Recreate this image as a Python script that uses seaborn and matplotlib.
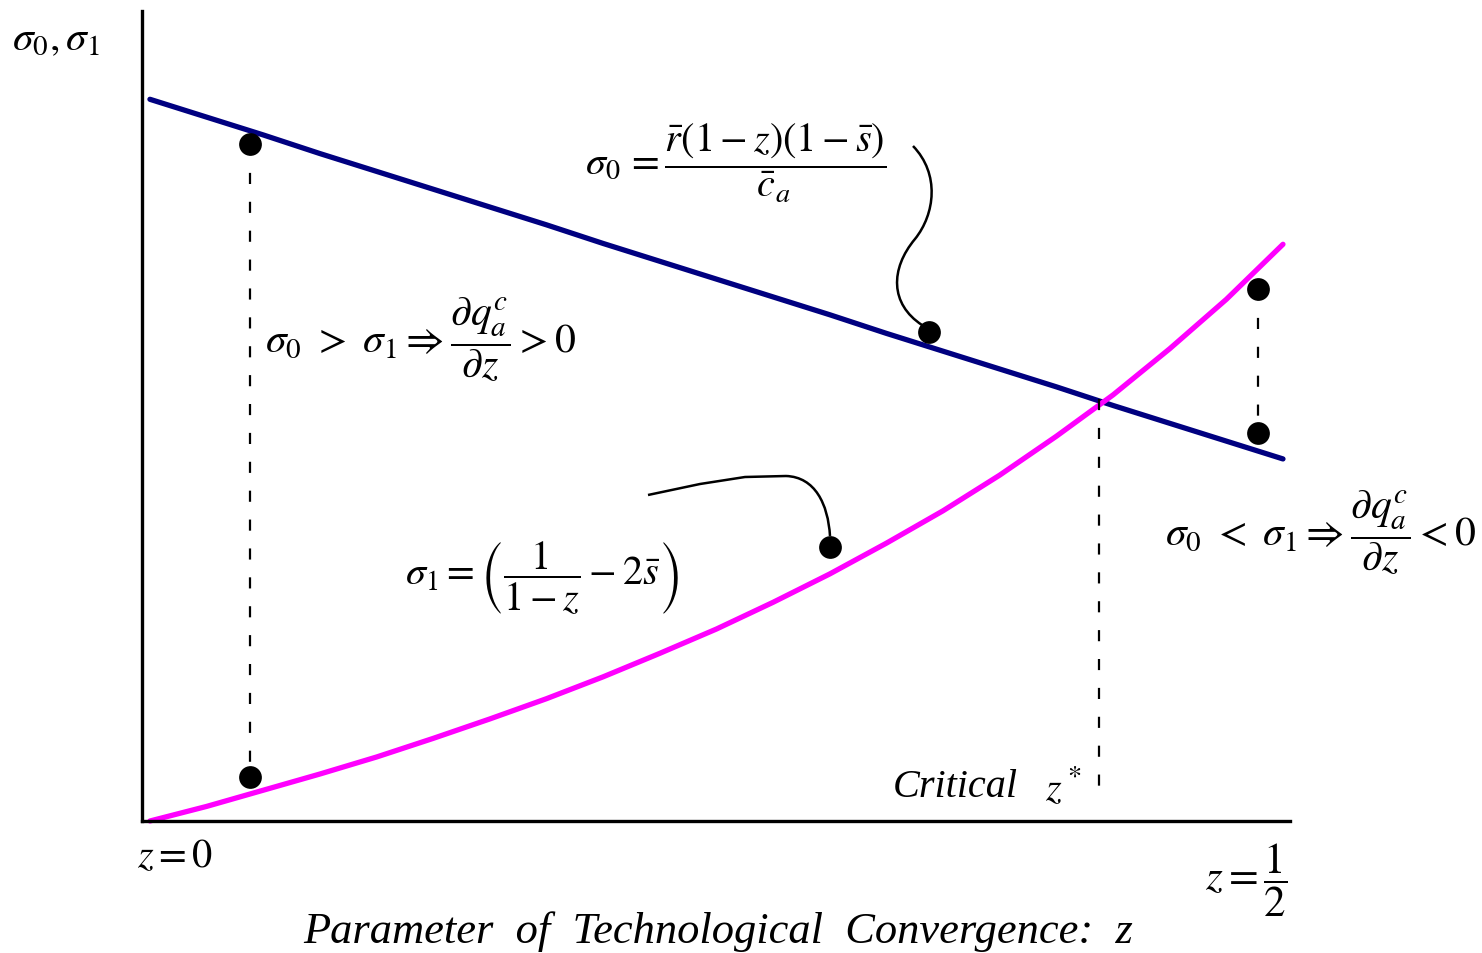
import numpy as np
import pandas as pd
import seaborn as sns
import matplotlib.pyplot as plt
from matplotlib.path import Path
from matplotlib.patches import PathPatch

# values (sigma in arbitrary units, 0 = x-axis)
z_grid = [0.0, 0.025, 0.05, 0.075, 0.1, 0.125, 0.15, 0.175, 0.2, 0.225, 0.25,
          0.275, 0.3, 0.325, 0.35, 0.375, 0.4, 0.425, 0.45, 0.475, 0.5]
sigma0 = [0.891, 0.869, 0.847, 0.824, 0.802, 0.780, 0.758, 0.736, 0.713, 0.691, 0.669,
          0.647, 0.625, 0.602, 0.580, 0.558, 0.536, 0.513, 0.491, 0.469, 0.447]
sigma1 = [0.0, 0.018, 0.038, 0.058, 0.079, 0.102, 0.126, 0.151, 0.178, 0.207, 0.237,
          0.270, 0.305, 0.343, 0.383, 0.427, 0.475, 0.526, 0.583, 0.644, 0.712]

dot_z = [0.044, 0.044, 0.344, 0.300, 0.489, 0.489]
dot_s = [0.836, 0.054, 0.604, 0.338, 0.657, 0.479]

z_star, s_star = 0.419, 0.521

W, H = 1482, 954

sns.set_style("white")
plt.rcParams["mathtext.fontset"] = "stix"
plt.rcParams["font.family"] = ["Liberation Serif", "DejaVu Serif"]
plt.rcParams["text.color"] = "black"

fig = plt.figure(figsize=(W / 100, H / 100), dpi=100)
ax = fig.add_axes([142 / W, 1 - 822 / H, (1290 - 142) / W, (822 - 12) / H])


def fx(px, py):
    return px / W, 1 - py / H


df = pd.DataFrame({"z": z_grid, "sigma0": sigma0, "sigma1": sigma1})
sns.lineplot(data=df, x="z", y="sigma0", color="#000080", lw=3.8, ax=ax, clip_on=False)
sns.lineplot(data=df, x="z", y="sigma1", color="#FF00FF", lw=3.8, ax=ax, clip_on=False)

# dashed guides
dash = dict(color="black", lw=1.6, ls=(0, (5, 8)))
ax.plot([dot_z[0], dot_z[1]], [dot_s[0], dot_s[1]], **dash)
ax.plot([dot_z[4], dot_z[5]], [dot_s[4], dot_s[5]], **dash)
ax.plot([z_star, z_star], [s_star, 0.03], **dash)

sns.scatterplot(x=dot_z, y=dot_s, color="black", s=230, ax=ax, zorder=5,
                edgecolor="black", clip_on=False)

ax.set_xlim(-0.0035, 0.5031)
ax.set_ylim(0, 1)
ax.set_xticks([])
ax.set_yticks([])
ax.set_xlabel("")
ax.set_ylabel("")
sns.despine(ax=ax)
for s in ["left", "bottom"]:
    ax.spines[s].set_linewidth(2.4)
    ax.spines[s].set_color("black")

# leader curves
def leader(pts, codes):
    verts = [fx(*p) for p in pts]
    fig.add_artist(PathPatch(Path(verts, codes), fill=False, lw=1.8,
                             ec="black", transform=fig.transFigure))

C = Path.CURVE4
leader([(913, 147), (940, 175), (935, 215), (915, 240),
        (890, 270), (890, 305), (922, 326)],
       [Path.MOVETO, C, C, C, C, C, C])
leader([(648, 496), (700, 485), (745, 478), (786, 477),
        (815, 478), (828, 505), (830, 537)],
       [Path.MOVETO, Path.LINETO, Path.LINETO, Path.LINETO, C, C, C])

fig.text(*fx(12, 40), r"$\sigma_0,\sigma_1$", fontsize=30, va="center", ha="left")
fig.text(*fx(585, 163),
         r"$\sigma_0\, = \dfrac{\bar{r}\left(1-z\right)\left(1-\bar{s}\right)}{\bar{c}_a}$",
         fontsize=29, va="center", ha="left")
fig.text(*fx(265, 340),
         r"$\sigma_0\ >\ \sigma_1 \Rightarrow \dfrac{\partial q_a^c}{\partial z} > 0$",
         fontsize=30, va="center", ha="left")
fig.text(*fx(405, 578),
         r"$\sigma_1 = \left(\dfrac{1}{1-z} - 2\bar{s}\right)$",
         fontsize=29, va="center", ha="left")
fig.text(*fx(1165, 533),
         r"$\sigma_0\ <\ \sigma_1 \Rightarrow \dfrac{\partial q_a^c}{\partial z} < 0$",
         fontsize=30, va="center", ha="left")
fig.text(*fx(893, 788), "Critical", fontsize=29, style="italic", va="center", ha="left")
fig.text(*fx(1045, 788), r"$z^*$", fontsize=29, va="center", ha="left")
fig.text(*fx(137, 858), r"$z = 0$", fontsize=29, va="center", ha="left")
fig.text(*fx(1205, 880), r"$z = \dfrac{1}{2}$", fontsize=31, va="center", ha="left")
fig.text(*fx(303, 932), "Parameter  of  Technological  Convergence:  z",
         fontsize=32, style="italic", va="center", ha="left")

fig.savefig("out.png", dpi=100)
